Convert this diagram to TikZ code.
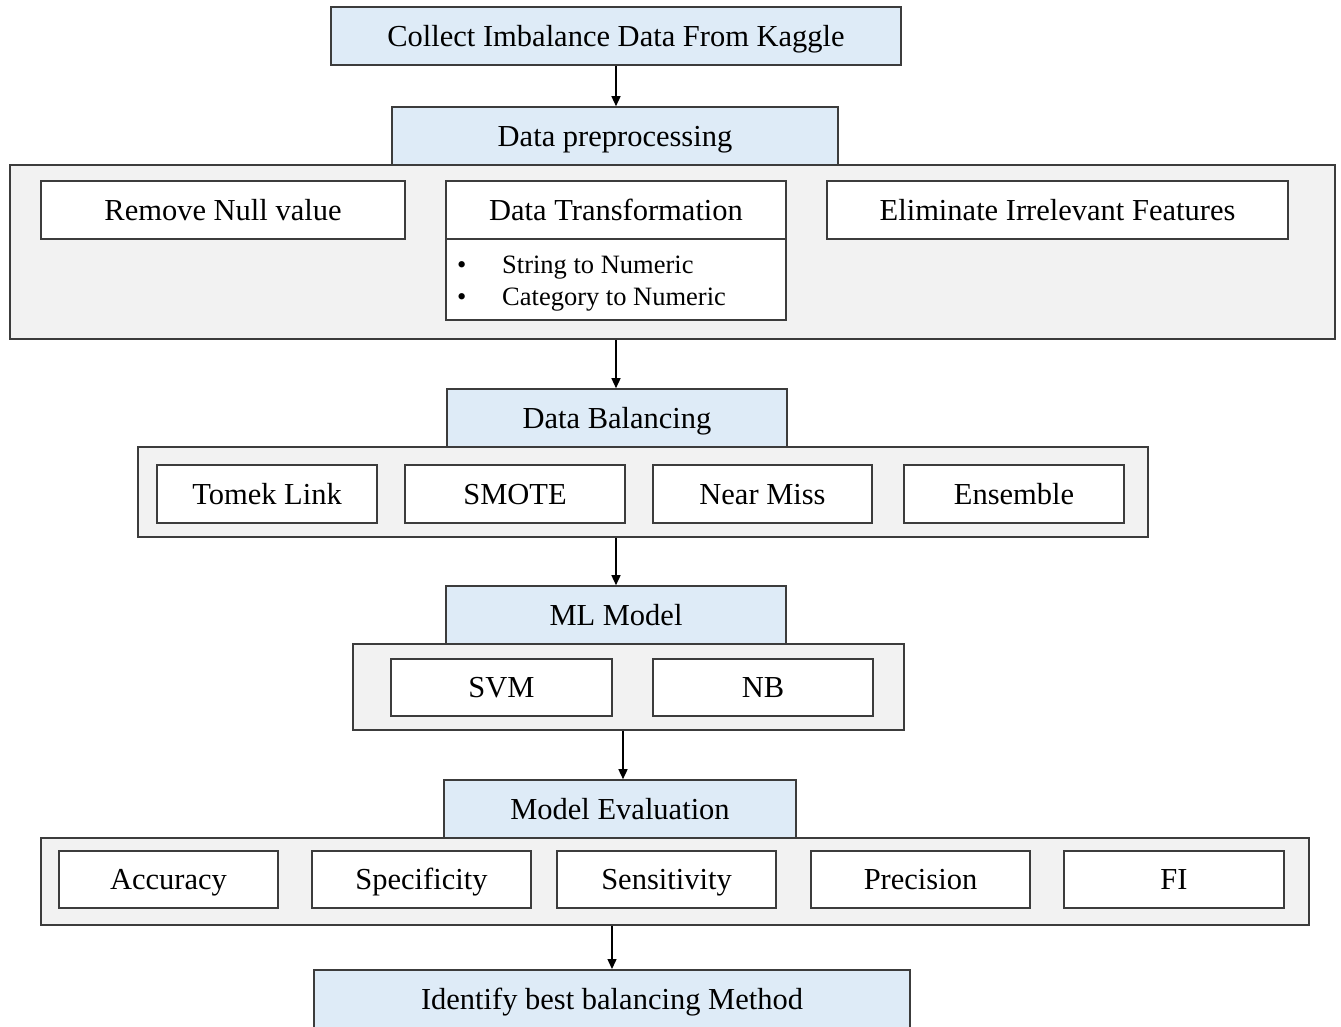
\documentclass[tikz,border=0pt]{standalone}
\usepackage{fontspec}
\setmainfont{Liberation Serif}
\usetikzlibrary{arrows.meta}
\definecolor{hdrblue}{RGB}{222,235,247}
\definecolor{panelgray}{RGB}{242,242,242}
\definecolor{edge}{RGB}{60,60,60}
\tikzset{
  base/.style={draw=edge, line width=1.6pt, inner sep=0pt, text height=20pt, text depth=0pt, font=\fontsize{30.5}{34}\selectfont},
  hdr/.style={base, fill=hdrblue},
  item/.style={base, fill=white},
  panel/.style={draw=edge, line width=1.6pt, fill=panelgray, inner sep=0pt},
  arr/.style={draw=black, line width=1.4pt, -{Triangle[length=10pt,width=9pt]}},
  small/.style={inner sep=0pt, anchor=west, text height=17pt, text depth=0pt, font=\fontsize{26.5}{30}\selectfont}
}
\newcommand{\bx}[7]{% style, name, x1, y1, x2, y2, text
  \node[#1, minimum width=#5-#3, minimum height=#6-#4] (#2) at ({(#3+#5)/2},{(#4+#6)/2}) {#7};}
\begin{document}
\begin{tikzpicture}[x=1pt,y=-1pt]
\useasboundingbox (0,0) rectangle (1341,1026);
\clip (0,0) rectangle (1341,1026);
\fill[white] (0,0) rectangle (1341,1026);
% top
\bx{hdr}{collect}{331}{7}{901}{65}{Collect Imbalance Data From Kaggle}
% preprocessing
\bx{panel}{panA}{10}{165}{1335}{339}{}
\bx{hdr}{prep}{392}{107}{838}{165}{Data preprocessing}
\bx{item}{nullv}{41}{181}{405}{239}{Remove Null value}
\bx{item}{trans}{446}{181}{786}{239}{Data Transformation}
\bx{item}{transb}{446}{239}{786}{320}{}
\bx{item}{elim}{827}{181}{1288}{239}{Eliminate Irrelevant Features}
\node[small] (b1) at (457,265) {\textbullet};
\node[small] (b2) at (457,297) {\textbullet};
\node[small] (s1) at (502,265) {String to Numeric};
\node[small] (s2) at (502,297) {Category to Numeric};
% balancing
\bx{panel}{panB}{138}{447}{1148}{537}{}
\bx{hdr}{bal}{447}{389}{787}{447}{Data Balancing}
\bx{item}{tomek}{157}{465}{377}{523}{Tomek Link}
\bx{item}{smote}{405}{465}{625}{523}{SMOTE}
\bx{item}{near}{653}{465}{872}{523}{Near Miss}
\bx{item}{ens}{904}{465}{1124}{523}{Ensemble}
% ML model
\bx{panel}{panC}{353}{644}{904}{730}{}
\bx{hdr}{ml}{446}{586}{786}{644}{ML Model}
\bx{item}{svm}{391}{659}{612}{716}{SVM}
\bx{item}{nb}{653}{659}{873}{716}{NB}
% evaluation
\bx{panel}{panD}{41}{838}{1309}{925}{}
\bx{hdr}{eval}{444}{780}{796}{838}{Model Evaluation}
\bx{item}{acc}{59}{851}{278}{908}{Accuracy}
\bx{item}{spec}{312}{851}{531}{908}{Specificity}
\bx{item}{sens}{557}{851}{776}{908}{Sensitivity}
\bx{item}{prec}{811}{851}{1030}{908}{Precision}
\bx{item}{fi}{1064}{851}{1284}{908}{FI}
% final
\node[draw=edge, line width=1.6pt, fill=hdrblue, inner sep=0pt, minimum width=596, minimum height=70, anchor=north] (best) at (612,969) {};
\node[inner sep=0pt, text height=20pt, text depth=0pt, font=\fontsize{30.5}{34}\selectfont] (bestt) at (612,999) {Identify best balancing Method};
% arrows
\draw[arr] (collect.south -| 616,0) -- (prep.north -| 616,0);
\draw[arr] (panA.south -| 616,0) -- (bal.north -| 616,0);
\draw[arr] (panB.south -| 616,0) -- (ml.north -| 616,0);
\draw[arr] (panC.south -| 623,0) -- (eval.north -| 623,0);
\draw[arr] (panD.south -| 612,0) -- (best.north -| 612,0);
\end{tikzpicture}
\end{document}
